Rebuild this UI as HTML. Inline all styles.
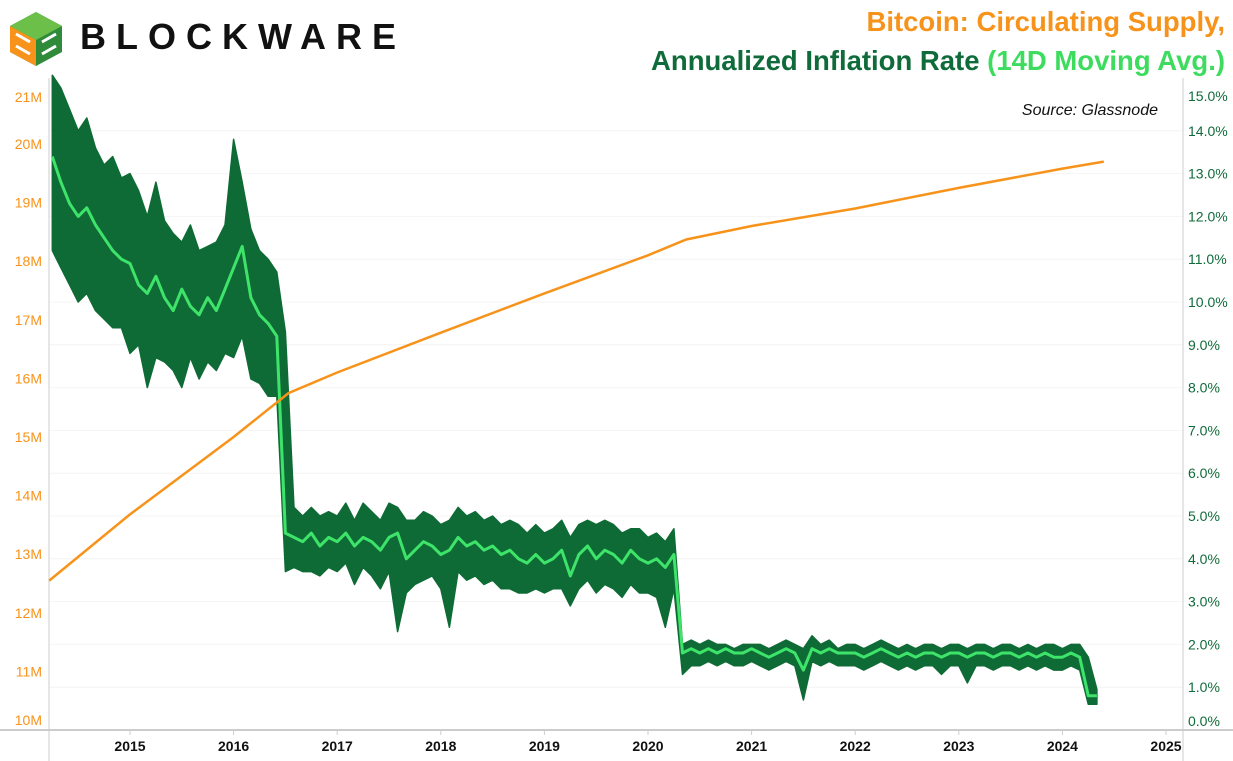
<!DOCTYPE html>
<html><head><meta charset="utf-8"><style>
body{margin:0;background:#fff;width:1233px;height:761px;overflow:hidden;font-family:"Liberation Sans",sans-serif}
#logo-text{position:absolute;left:80px;top:16px;font-size:36px;font-weight:900;letter-spacing:10px;color:#111}
.t{position:absolute;right:8px;font-size:27.5px;font-weight:bold;white-space:nowrap}
</style></head><body>
<svg style="position:absolute;left:8px;top:6px" width="56" height="60" viewBox="0 0 56 60">
<polygon points="2,20 28,6 54,20 54,46 28,60 2,46" fill="#2f8a3a"/>
<polygon points="2,20 28,34 28,60 2,46" fill="#f7931a"/>
<polygon points="2,20 28,6 54,20 28,34" fill="#6cc04a"/>
<path d="M8,28 L22,36 M8,40 L22,48 M34,36 L48,28 M34,48 L48,40" stroke="#fff" stroke-width="3"/>
</svg>
<div id="logo-text">BLOCKWARE</div>
<div class="t" style="top:6px;color:#f7931a">Bitcoin: Circulating Supply,</div>
<div class="t" style="top:45px;color:#0f6b3a">Annualized Inflation Rate <span style="color:#3ddc5f">(14D Moving Avg.)</span></div>
<svg id="chart" width="1233" height="761" style="position:absolute;left:0;top:0"></svg>
<script>
const years=[2015,2016,2017,2018,2019,2020,2021,2022,2023,2024,2025];
const leftTicks=[10,11,12,13,14,15,16,17,18,19,20,21];
const rightTicks=[0,1,2,3,4,5,6,7,8,9,10,11,12,13,14,15];
const supplyT=[2014.22,2015,2016,2016.53,2017,2018,2019,2020,2020.37,2021,2022,2023,2024,2024.4];
const supplyV=[12.55,13.68,15.0,15.75,16.1,16.78,17.45,18.1,18.37,18.6,18.9,19.25,19.58,19.7];
const infStart=2014.25;
const infMA=[13.4,12.8,12.3,12.0,12.2,11.8,11.5,11.2,11.0,
10.9,10.4,10.2,10.6,10.1,9.8,10.3,9.9,9.7,10.1,9.8,10.3,
10.8,11.3,10.1,9.7,9.5,9.2,4.6,4.5,4.4,4.6,4.3,4.5,
4.4,4.6,4.3,4.5,4.4,4.2,4.5,4.6,4.0,4.2,4.4,4.3,
4.1,4.2,4.5,4.3,4.4,4.2,4.3,4.1,4.2,4.0,3.9,4.1,
3.9,4.0,4.2,3.6,4.1,4.3,4.0,4.2,4.1,3.9,4.2,4.0,
3.9,4.0,3.8,4.1,1.8,1.9,1.8,1.9,1.8,1.9,1.8,1.8,
1.9,1.8,1.7,1.8,1.9,1.8,1.4,1.9,1.8,1.9,1.8,1.8,
1.8,1.7,1.8,1.9,1.8,1.7,1.8,1.7,1.8,1.8,1.7,1.8,
1.8,1.7,1.8,1.8,1.7,1.8,1.8,1.7,1.8,1.7,1.8,1.7,
1.7,1.8,1.7,0.8,0.8];
const infHi=[15.3,15.0,14.5,14.0,14.3,13.6,13.2,13.4,12.9,
13.0,12.6,12.0,12.8,11.9,11.6,11.4,11.8,11.2,11.3,11.4,11.8,
13.8,12.8,11.7,11.2,11.0,10.7,9.3,5.2,5.0,5.2,5.0,5.1,
5.0,5.3,4.9,5.3,5.1,4.9,5.3,5.2,4.9,4.9,5.1,5.0,
4.8,4.9,5.2,5.0,5.1,4.9,5.0,4.8,4.9,4.8,4.6,4.8,
4.6,4.7,4.9,4.5,4.8,4.9,4.8,4.9,4.8,4.6,4.7,4.7,
4.5,4.6,4.4,4.7,2.0,2.1,2.0,2.1,2.0,2.0,1.9,2.0,
2.0,2.0,1.9,2.0,2.1,2.0,1.9,2.2,2.0,2.1,1.9,2.0,
2.0,1.9,2.0,2.1,2.0,1.9,2.0,1.9,2.0,2.0,1.9,2.0,
2.0,1.9,2.0,2.0,1.9,2.0,2.0,1.9,2.0,1.9,2.0,2.0,
1.9,2.0,2.0,1.7,0.95];
const infLo=[11.2,10.8,10.4,10.0,10.2,9.8,9.6,9.4,9.4,
8.8,9.0,8.0,8.7,8.6,8.4,8.0,8.7,8.2,8.6,8.4,8.8,
8.7,9.2,8.2,8.1,7.8,7.8,3.7,3.8,3.7,3.7,3.6,3.8,
3.7,3.9,3.4,3.8,3.6,3.3,3.7,2.3,3.2,3.4,3.5,3.6,
3.3,2.4,3.7,3.5,3.6,3.4,3.5,3.3,3.3,3.2,3.2,3.3,
3.2,3.3,3.3,2.9,3.3,3.5,3.2,3.4,3.3,3.1,3.4,3.2,
3.2,3.1,2.4,3.3,1.3,1.5,1.5,1.6,1.5,1.6,1.5,1.5,
1.6,1.5,1.4,1.5,1.6,1.5,0.7,1.6,1.5,1.6,1.5,1.5,
1.5,1.4,1.5,1.6,1.5,1.4,1.5,1.4,1.5,1.5,1.3,1.5,
1.5,1.1,1.5,1.5,1.4,1.5,1.5,1.4,1.5,1.4,1.5,1.4,
1.4,1.5,1.4,0.6,0.6];

const NS='http://www.w3.org/2000/svg';
const svg=document.getElementById('chart');
const X0=49,X1=1183,Y0=730,YT=88;
const x=t=>130+(t-2015)*103.6;
const yL=v=>730-(v-10)*58.6;
const yR=p=>730-p*42.8;
const tm=i=>infStart+i/12;
function mk(tag,attrs){const e=document.createElementNS(NS,tag);for(const k in attrs)e.setAttribute(k,attrs[k]);svg.appendChild(e);return e;}

rightTicks.forEach(p=>{if(p>0&&p<15){const g=mk('line',{x1:X0,x2:X1,y1:yR(p),y2:yR(p),stroke:'#f4f4f4'});

}});
let ax=mk('line',{x1:X0,x2:X0,y1:YT-10,y2:761,stroke:'#ccc'});


ax=mk('line',{x1:X1,x2:X1,y1:YT-10,y2:761,stroke:'#ccc'});


ax=mk('line',{x1:0,x2:1233,y1:Y0,y2:Y0,stroke:'#ccc','stroke-width':2});



years.forEach(yv=>{const t=mk('text',{x:x(yv),y:751,'text-anchor':'middle','font-size':14,'font-weight':'bold',fill:'#111'});t.textContent=yv;


const k=mk('line',{x1:x(yv),x2:x(yv),y1:Y0,y2:Y0+5,stroke:'#ccc'});

});
leftTicks.forEach(v=>{let yy=yL(v);if(yy<YT+9)yy=YT+9;if(yy>Y0-10)yy=Y0-10;
const t=mk('text',{x:42,y:yy+5,'text-anchor':'end','font-size':14,fill:'#f7931a'});t.textContent=v+'M';

});
rightTicks.forEach(p=>{let yy=yR(p);if(yy<YT+8)yy=YT+8;if(yy>Y0-9)yy=Y0-9;
const t=mk('text',{x:1188,y:yy+5,'font-size':14,fill:'#0f6b3a'});t.textContent=p.toFixed(1)+'%';

});

let d='';infHi.forEach((v,i)=>{d+=(i?'L':'M')+x(tm(i)).toFixed(1)+','+yR(v).toFixed(1);});
for(let i=infLo.length-1;i>=0;i--)d+='L'+x(tm(i)).toFixed(1)+','+yR(infLo[i]).toFixed(1);
const band=mk('path',{d:d+'Z',fill:'#0e6b35',stroke:'#0e6b35','stroke-width':1.5,'stroke-linejoin':'round'});


d='';infMA.forEach((v,i)=>{d+=(i?'L':'M')+x(tm(i)).toFixed(1)+','+yR(v).toFixed(1);});
const ma=mk('path',{d:d,fill:'none',stroke:'#3ee46a','stroke-width':3,'stroke-linejoin':'round'});


d='';supplyT.forEach((t,i)=>{d+=(i?'L':'M')+x(t).toFixed(1)+','+yL(supplyV[i]).toFixed(1);});
const sp=mk('path',{d:d,fill:'none',stroke:'#f7931a','stroke-width':2.5});


const src=mk('text',{x:1158,y:115,'text-anchor':'end','font-size':16,'font-style':'italic',fill:'#111'});src.textContent='Source: Glassnode';


</script>
</body></html>
